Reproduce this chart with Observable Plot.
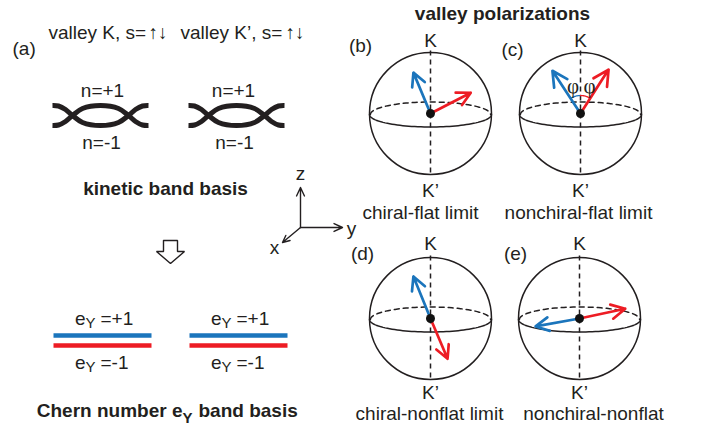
<!DOCTYPE html>
<html><head><meta charset="utf-8">
<script src="https://cdn.jsdelivr.net/npm/d3@7"></script>
<script src="https://cdn.jsdelivr.net/npm/@observablehq/plot@0.6"></script>
<style>body{margin:0;background:#fff} #chart svg{display:block}</style>
</head><body><div id="chart"></div>
<script>
// ---------- data ----------
const valleyLabels = ["valley K, s=", "valley K’, s="];
const spinArrows = "↑↓";
const kineticBandLabels = ["n=+1", "n=-1"];
const chernBandValues = ["=+1", "=-1"];
const panelNames = ["(b)", "(c)", "(d)", "(e)"];
const panelCaptions = ["chiral-flat limit", "nonchiral-flat limit", "chiral-nonflat limit", "nonchiral-nonflat"];
const poleLabels = ["K", "K’"];
const axisLabels = ["x", "y", "z"];
// valley-polarization vectors (dx, dy) in sphere-radius units, screen orientation
const blueVectorsX = [-0.28, -0.46, -0.28, -0.72];
const blueVectorsY = [-0.67, -0.70, -0.69, 0.13];
const redVectorsX = [0.66, 0.46, 0.28, 0.75];
const redVectorsY = [-0.34, -0.72, 0.66, -0.16];
// kinetic band dispersion (offset from centre, px)
const bandCurveX = [-48, -42, -35, -28, -18, 0, 18, 28, 35, 42, 48];
const bandCurveY = [10, 9.5, 6, 0, -7, -10, -7, 0, 6, 9.5, 10];

// ---------- layout & style ----------
const W = 701, H = 435;
const ink = "#231f20", blue = "#1b75bc", red = "#ed1c24";
const FONT = "Liberation Sans, Arial, Helvetica, sans-serif";
const FS = 19;
const centers = [[430, 113], [580, 113], [430, 318], [579, 318]];
const R = 61, RY = 12.5;
const bandCenters = [100, 236];
const bandY = 115;
const chernCenters = [102, 238];

const spheres = centers.map((c, i) => ({i, cx: c[0], cy: c[1]}));
const front = [], back = [];
spheres.forEach(s => {
  for (let k = 0; k <= 60; k++) {
    const t = Math.PI * k / 60;
    front.push({z: s.i, x: s.cx + R * Math.cos(t), y: s.cy + 1 + RY * Math.sin(t)});
    back.push({z: s.i, x: s.cx + R * Math.cos(t + Math.PI) * 0.985, y: s.cy + 1 + RY * Math.sin(t + Math.PI)});
  }
});
const vecs = [];
spheres.forEach(s => {
  vecs.push({c: blue, x1: s.cx, y1: s.cy, x2: s.cx + R * blueVectorsX[s.i], y2: s.cy + R * blueVectorsY[s.i]});
  vecs.push({c: red, x1: s.cx, y1: s.cy, x2: s.cx + R * redVectorsX[s.i], y2: s.cy + R * redVectorsY[s.i]});
});
const pc = spheres[1];
const aBlue = Math.atan2(blueVectorsY[1], blueVectorsX[1]);
const aRed = Math.atan2(redVectorsY[1], redVectorsX[1]);
const arcs = [];
for (let k = 0; k <= 20; k++) {
  const tb = aBlue + (-Math.PI / 2 - aBlue) * k / 20;
  const tr = -Math.PI / 2 + (aRed + Math.PI / 2) * k / 20;
  arcs.push({z: "b", c: blue, x: pc.cx + 18 * Math.cos(tb), y: pc.cy + 18 * Math.sin(tb)});
  arcs.push({z: "r", c: red, x: pc.cx + 18 * Math.cos(tr), y: pc.cy + 18 * Math.sin(tr)});
}
const bands = [];
bandCenters.forEach((bx, j) => {
  bandCurveX.forEach((dx, k) => {
    bands.push({z: j + "u", x: bx + dx, y: bandY + bandCurveY[k]});
    bands.push({z: j + "d", x: bx + dx, y: bandY - bandCurveY[k]});
  });
});
const ax = 170, ay = 240;
const hollow = [[-7,0],[7,0],[7,11],[14,11],[0,23],[-14,11],[-7,11],[-7,0]].map(p => ({x: ax + p[0], y: ay + p[1]}));
const bars = [];
chernCenters.forEach(cx => {
  bars.push({c: blue, x1: cx - 49, x2: cx + 49, y: 335});
  bars.push({c: red, x1: cx - 49, x2: cx + 49, y: 345});
});

// texts grouped by anchor / weight
const T = (x, y, text, s) => ({x, y, text, s});
const midTexts = [
  T(102, 90, kineticBandLabels[0]), T(233, 90, kineticBandLabels[0]),
  T(101, 142, kineticBandLabels[1]), T(234, 142, kineticBandLabels[1]),
  T(300, 173, axisLabels[2]), T(351, 228, axisLabels[1]), T(274, 247, axisLabels[0])
];
const startTexts = [
  T(48, 32, valleyLabels[0]),
  T(180, 32, valleyLabels[1]),
  T(148, 32, spinArrows),
  T(285, 32, spinArrows),
  T(12, 48, "(a)")
];
const endTexts = [];
const boldMid = [T(165, 188, "kinetic band basis"), T(502, 13, "valley polarizations")];
const boldStart = [T(182, 418, "Y", 15), T(198, 410, "band basis")];
const boldEnd = [T(182, 410, "Chern number e")];
chernCenters.forEach(cx => {
  [[318, chernBandValues[0]], [362, chernBandValues[1]]].forEach(([y, v]) => {
    endTexts.push(T(cx - 17, y, "e"));
    startTexts.push(T(cx - 17, y + 5, "Y", 15));
    startTexts.push(T(cx - 2, y, v));
  });
});
const panelPos = [[360, 45], [512, 49], [362, 253], [515, 253]];
const poleY = [[40, 190], [40, 190], [243, 392], [243, 392]];
const captionPos = [[420, 212], [578, 212], [429, 413], [593, 413]];
spheres.forEach(s => {
  midTexts.push(T(panelPos[s.i][0], panelPos[s.i][1], panelNames[s.i]));
  midTexts.push(T(s.cx, poleY[s.i][0], poleLabels[0]));
  midTexts.push(T(s.cx, poleY[s.i][1], poleLabels[1]));
  midTexts.push(T(captionPos[s.i][0], captionPos[s.i][1], panelCaptions[s.i]));
});
const poleAxis = spheres.map(s => ({x: s.cx, y1: s.cy - 63, y2: s.cy + 62}));
const origin = [300, 227];
const axes = [
  {x1: origin[0], y1: origin[1], x2: 300, y2: 187},
  {x1: origin[0], y1: origin[1], x2: 342, y2: 227},
  {x1: origin[0], y1: origin[1], x2: 282, y2: 242}
];
const txt = (data, anchor, weight, family = FONT) => Plot.text(data, {x: "x", y: "y", text: "text", fill: ink,
  fontSize: d => d.s || FS, fontWeight: weight, textAnchor: anchor, fontFamily: family});

const chart = Plot.plot({
  width: W, height: H, margin: 0,
  x: {domain: [0, W], range: [0, W], axis: null},
  y: {domain: [0, H], range: [0, H], axis: null},
  style: {background: "#fff", fontFamily: FONT, color: ink},
  marks: [
    Plot.line(bands, {x: "x", y: "y", z: "z", stroke: ink, strokeWidth: 5, curve: "catmull-rom", strokeLinecap: "butt"}),
    Plot.line(hollow, {x: "x", y: "y", stroke: ink, strokeWidth: 1.4, strokeLinejoin: "miter"}),
    Plot.link(bars, {x1: "x1", x2: "x2", y1: "y", y2: "y", stroke: d => d.c, strokeWidth: 4.5}),
    Plot.dot(spheres, {x: "cx", y: "cy", r: R, stroke: ink, strokeWidth: 1.5, fill: "none"}),
    Plot.line(front, {x: "x", y: "y", z: "z", stroke: ink, strokeWidth: 1.5}),
    Plot.line(back, {x: "x", y: "y", z: "z", stroke: ink, strokeWidth: 1.5, strokeDasharray: "5,4"}),
    Plot.link(poleAxis, {x1: "x", x2: "x", y1: "y1", y2: "y2", stroke: ink, strokeWidth: 1.5, strokeDasharray: "5,4"}),
    Plot.line(arcs, {x: "x", y: "y", z: "z", stroke: d => d.c, strokeWidth: 1.3}),
    Plot.arrow(vecs, {x1: "x1", y1: "y1", x2: "x2", y2: "y2", stroke: d => d.c, strokeWidth: 2.7, headLength: 14, headAngle: 55}),
    Plot.dot(spheres, {x: "cx", y: "cy", r: 4.5, fill: "#111", stroke: "none"}),
    Plot.arrow(axes, {x1: "x1", y1: "y1", x2: "x2", y2: "y2", stroke: ink, strokeWidth: 1.4, headLength: 10, headAngle: 50}),
    Plot.text([{x: 572.5, y: 86}, {x: 589, y: 86}], {x: "x", y: "y", text: () => "φ", fontSize: 21, fontFamily: "Liberation Serif, serif", fill: ink}),
    txt(midTexts, "middle", "normal"),
    txt(startTexts, "start", "normal"),
    txt(endTexts, "end", "normal"),
    txt(boldMid, "middle", "bold"),
    txt(boldStart, "start", "bold"),
    txt(boldEnd, "end", "bold")
  ]
});
document.getElementById("chart").append(chart);
</script>
</body></html>
